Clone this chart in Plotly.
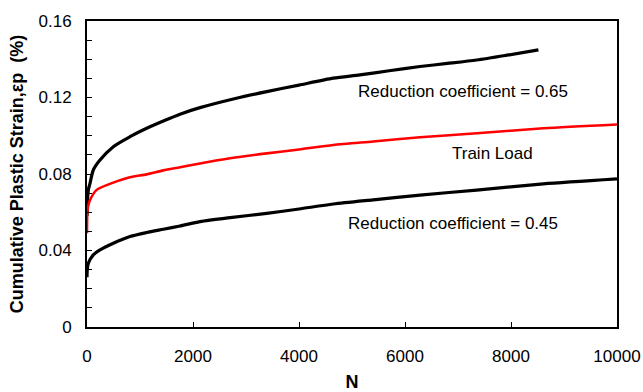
import plotly.graph_objects as go

# Cumulative plastic strain (%) against number of load cycles N
n_rc065 = [0, 5, 25, 57, 119, 245, 497, 811, 1126, 1440, 1755, 2132, 2800,
           3391, 4000, 4648, 5150, 5700, 6283, 6800, 7353, 7900, 8517]
strain_rc065 = [0.058, 0.064, 0.0717, 0.0751, 0.0821, 0.0873, 0.0943, 0.0995, 0.1039,
                0.1077, 0.1113, 0.1147, 0.1195, 0.1231, 0.1265, 0.1301, 0.1318,
                0.134, 0.1362, 0.1378, 0.1396, 0.142, 0.1449]

n_train = [0, 5, 20, 57, 182, 497, 811, 1126, 1440, 1755, 2132, 2700, 3391, 4000,
           4648, 5400, 6283, 7353, 8611, 10000]
strain_train = [0.049, 0.0596, 0.063, 0.0664, 0.0717, 0.0755, 0.0783, 0.0798, 0.0819,
                0.0835, 0.0855, 0.0882, 0.0908, 0.0928, 0.0952, 0.097, 0.0992, 0.1013,
                0.1039, 0.1059]

n_rc045 = [0, 5, 25, 119, 245, 497, 811, 1126, 1440, 1755, 2132, 2700, 3391, 4000,
           4648, 5400, 6283, 7353, 8611, 10000]
strain_rc045 = [0.026, 0.03, 0.0333, 0.0377, 0.0403, 0.0438, 0.0473, 0.0494, 0.0511,
                0.0528, 0.0551, 0.0572, 0.0594, 0.0617, 0.0643, 0.0665, 0.069, 0.0716,
                0.0748, 0.0774]

x_ticks = [0, 2000, 4000, 6000, 8000, 10000]
y_ticks = [0, 0.04, 0.08, 0.12, 0.16]
y_tick_text = ["0", "0.04", "0.08", "0.12", "0.16"]

labels = [
    ("Reduction coefficient = 0.65", 7090, 0.1233),
    ("Train Load", 7660, 0.0908),
    ("Reduction coefficient = 0.45", 6900, 0.0542),
]

FONT = "Liberation Sans, Arial, sans-serif"

fig = go.Figure()
fig.add_trace(go.Scatter(x=n_rc065, y=strain_rc065, mode="lines",
                         line=dict(color="black", width=3.2, shape="spline", smoothing=0.7),
                         showlegend=False))
fig.add_trace(go.Scatter(x=n_train, y=strain_train, mode="lines",
                         line=dict(color="#ff0000", width=2.6, shape="spline", smoothing=0.7),
                         showlegend=False))
fig.add_trace(go.Scatter(x=n_rc045, y=strain_rc045, mode="lines",
                         line=dict(color="black", width=3.2, shape="spline", smoothing=0.7),
                         showlegend=False))

for text, xv, yv in labels:
    fig.add_annotation(x=xv, y=yv, text=text, showarrow=False,
                       font=dict(family=FONT, size=17, color="black"),
                       xanchor="center", yanchor="middle")

fig.update_layout(
    width=643, height=392,
    margin=dict(l=87, r=26, t=21, b=65),
    paper_bgcolor="white", plot_bgcolor="white",
    font=dict(family=FONT, size=17, color="black"),
)

fig.update_xaxes(
    range=[0, 10000], tickvals=x_ticks, ticktext=[str(v) for v in x_ticks],
    ticks="inside", ticklen=5, tickwidth=1.2, tickcolor="black",
    showline=True, linecolor="black", linewidth=2, mirror=True,
    showgrid=False, zeroline=False, ticklabelstandoff=13, automargin=False,
    title=dict(text="<b>N</b>", font=dict(family=FONT, size=18), standoff=14),
)
fig.update_yaxes(
    range=[0, 0.16], tickvals=y_ticks, ticktext=y_tick_text,
    ticks="inside", ticklen=5, tickwidth=1.2, tickcolor="black",
    minor=dict(dtick=0.01, tick0=0, ticks="inside", ticklen=5, tickwidth=1.2, tickcolor="black"),
    showline=True, linecolor="black", linewidth=2, mirror=True,
    showgrid=False, zeroline=False, ticklabelstandoff=10, automargin=False,
    title=dict(text="<b>Cumulative Plastic Strain,εp\u00a0\u00a0(%)</b>",
               font=dict(family=FONT, size=18), standoff=10),
)

fig.write_html("out.html")
